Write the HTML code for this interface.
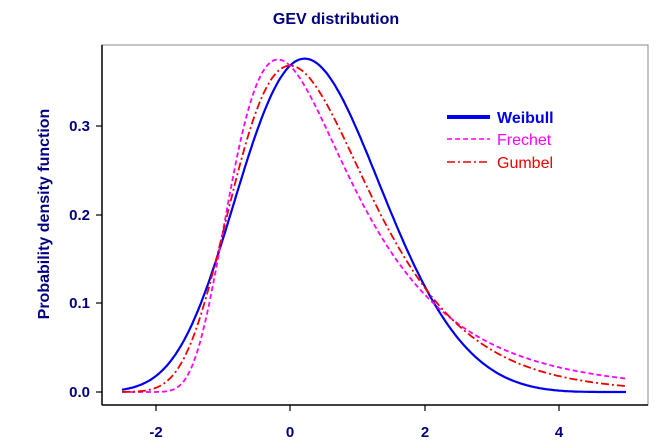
<!DOCTYPE html>
<html><head><style>body{margin:0;background:#fff}svg{display:block}text{font-family:"Liberation Sans",Arial,sans-serif;font-weight:bold;fill:#000080}</style></head>
<body>
<svg id="s" width="672" height="448" xmlns="http://www.w3.org/2000/svg">
<rect x="102" y="45" width="546" height="360" fill="none" stroke="#888" stroke-width="1"/>
<line x1="102" y1="45" x2="102" y2="405" stroke="#000" stroke-width="1.5"/>
<line x1="102" y1="405" x2="648" y2="405" stroke="#000" stroke-width="1.5"/>
<text x="336" y="24" font-size="16" text-anchor="middle">GEV distribution</text>
<text transform="translate(49,214) rotate(-90)" font-size="16" text-anchor="middle">Probability density function</text>
<g stroke="#000" stroke-width="1.2">
<line x1="96" y1="392" x2="102" y2="392"/><line x1="96" y1="303" x2="102" y2="303"/><line x1="96" y1="215" x2="102" y2="215"/><line x1="96" y1="126" x2="102" y2="126"/>
<line x1="156" y1="405" x2="156" y2="411"/><line x1="290" y1="405" x2="290" y2="411"/><line x1="425" y1="405" x2="425" y2="411"/><line x1="559" y1="405" x2="559" y2="411"/>
</g>
<g font-size="15" text-anchor="end">
<text x="90" y="397">0.0</text><text x="90" y="308">0.1</text><text x="90" y="220">0.2</text><text x="90" y="131">0.3</text></g>
<g font-size="15" text-anchor="middle">
<text x="156" y="437">-2</text><text x="290" y="437">0</text><text x="425" y="437">2</text><text x="559" y="437">4</text></g>
<path id="w" fill="none" stroke="#0000ee" stroke-width="2.2"/>
<path id="f" fill="none" stroke="#ff00ff" stroke-width="1.8" stroke-dasharray="5,3"/>
<path id="g" fill="none" stroke="#ee0000" stroke-width="1.8" stroke-dasharray="8,3,2,3"/>
<line x1="447" y1="117" x2="490" y2="117" stroke="#0000ee" stroke-width="4"/>
<line x1="447" y1="139" x2="490" y2="139" stroke="#ff00ff" stroke-width="1.6" stroke-dasharray="5,3"/>
<line x1="447" y1="162" x2="490" y2="162" stroke="#ee0000" stroke-width="1.6" stroke-dasharray="8,3,2,3"/>
<text x="497" y="123" font-size="16" style="fill:#0000ee">Weibull</text>
<text x="497" y="145" font-size="16" style="fill:#ff00ff;font-weight:normal">Frechet</text>
<text x="497" y="168" font-size="16" style="fill:#ee0000;font-weight:normal">Gumbel</text>
</svg>
<script>
function pdf(x,xi){var t;if(xi==0)t=Math.exp(-x);else{var b=1+xi*x;if(b<=0)return 0;t=Math.pow(b,-1/xi);}return Math.pow(t,xi+1)*Math.exp(-t);}
function path(xi){var d="";for(var i=0;i<=300;i++){var x=-2.5+7.5*i/300;var y=pdf(x,xi);var px=290+x*67.2,py=392-y*887;d+=(i?"L":"M")+px.toFixed(1)+","+py.toFixed(1);}return d;}
document.getElementById("w").setAttribute("d",path(-0.2));
document.getElementById("f").setAttribute("d",path(0.2));
document.getElementById("g").setAttribute("d",path(0));
</script>
</body></html>
